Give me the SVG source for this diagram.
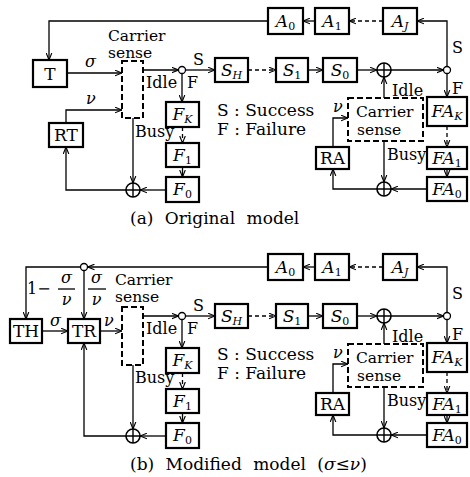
<svg xmlns="http://www.w3.org/2000/svg" width="470" height="477" viewBox="0 0 470 477">
<defs>
<style>
.box{fill:#fff;stroke:#000;stroke-width:2.2}
.ln{fill:none;stroke:#000;stroke-width:1.3;marker-end:url(#ah)}
.nm{fill:none;stroke:#000;stroke-width:1.3}
.dl{stroke-dasharray:4 3}
.db{fill:none;stroke:#000;stroke-width:2;stroke-dasharray:6 3}
.cir{fill:#fff;stroke:#000;stroke-width:1.3}
.sum{fill:#fff;stroke:#000;stroke-width:1.6}
text{font-family:"DejaVu Serif","Liberation Serif",serif;font-size:16px;fill:#000}
.it{font-style:italic}
.lb{text-anchor:middle;font-size:17px}
.sub{font-size:11px}
.lg{font-size:17px}
.cs{font-size:15.5px}
.cap{font-size:17px;word-spacing:6px}
.mid{text-anchor:middle}
</style>
<marker id="ah" viewBox="0 0 10 10" refX="10" refY="5" markerWidth="7" markerHeight="7" markerUnits="userSpaceOnUse" orient="auto">
<path d="M0,1 L10,5 L0,9" fill="none" stroke="#000" stroke-width="1.6"/>
</marker>
<g id="plus">
<circle cx="0" cy="0" r="7" class="sum"/>
<path d="M-7,0 H7 M0,-7 V7" stroke="#000" stroke-width="1.4"/>
</g>
</defs>

<!-- ============ (a) Original model ============ -->
<g id="a-connectors">
<path class="ln" d="M447,66.5 V21 H417"/>
<path class="ln dl" d="M383,21 H349"/>
<path class="ln" d="M315,21 H303"/>
<path class="ln" d="M268,21 H49 V60"/>
<path class="ln" d="M67,73 H122"/>
<path class="ln" d="M66,123 V110 H122"/>
<path class="ln" d="M143,70 H178.5"/>
<path class="ln" d="M185.5,70 H215"/>
<path class="ln" d="M182,73.5 V102"/>
<path class="ln dl" d="M248,70 H276"/>
<path class="ln" d="M308,70 H323"/>
<path class="ln" d="M357,70 H377"/>
<path class="ln" d="M391,70 H443.5"/>
<path class="ln" d="M447,73.5 V97"/>
<path class="ln dl" d="M447,126 V147"/>
<path class="ln" d="M447,169 V177"/>
<path class="ln" d="M427,189 H391"/>
<path class="ln" d="M377,189 H333 V169"/>
<path class="ln" d="M333,147 V118 H348"/>
<path class="ln" d="M384,141 V182"/>
<path class="ln" d="M384,98 V77"/>
<path class="ln dl" d="M182.5,127 V143"/>
<path class="ln" d="M182.5,167 V177"/>
<path class="ln" d="M166,190 H140"/>
<path class="ln" d="M133,118 V183"/>
<path class="ln" d="M126,190 H66 V147"/>
</g>

<g id="a-A0"><rect class="box" x="268" y="8" width="35" height="26"/><text class="lb it" x="285.5" y="27">A<tspan class="sub" font-style="normal" dy="3">0</tspan></text></g>
<g id="a-A1"><rect class="box" x="315" y="8" width="34" height="26"/><text class="lb it" x="332" y="27">A<tspan class="sub" font-style="normal" dy="3">1</tspan></text></g>
<g id="a-AJ"><rect class="box" x="383" y="8" width="34" height="26"/><text class="lb it" x="400" y="27">A<tspan class="sub" dy="3">J</tspan></text></g>
<g id="a-T"><rect class="box" x="33" y="60" width="34" height="27"/><text class="lb" x="50" y="80">T</text></g>
<g id="a-RT"><rect class="box" x="49" y="123" width="34" height="24"/><text class="lb" x="66" y="141">RT</text></g>
<g id="a-CS1"><rect class="db" x="122" y="61" width="21" height="57"/><text class="cs" x="108" y="41">Carrier</text><text class="cs" x="108" y="58">sense</text></g>
<g id="a-SW1"><circle class="cir" cx="182" cy="70" r="3.5"/></g>
<g id="a-SH"><rect class="box" x="215" y="58" width="33" height="24"/><text class="lb it" x="231.5" y="76">S<tspan class="sub" dy="3">H</tspan></text></g>
<g id="a-S1"><rect class="box" x="276" y="58" width="32" height="24"/><text class="lb it" x="292" y="76">S<tspan class="sub" font-style="normal" dy="3">1</tspan></text></g>
<g id="a-S0"><rect class="box" x="323" y="58" width="34" height="24"/><text class="lb it" x="340" y="76">S<tspan class="sub" font-style="normal" dy="3">0</tspan></text></g>
<g id="a-P1"><use href="#plus" x="384" y="70"/></g>
<g id="a-SW2"><circle class="cir" cx="447" cy="70" r="3.5"/></g>
<g id="a-FK"><rect class="box" x="166" y="102" width="33" height="25"/><text class="lb it" x="182.5" y="120">F<tspan class="sub" dy="3">K</tspan></text></g>
<g id="a-F1"><rect class="box" x="166" y="143" width="33" height="24"/><text class="lb it" x="182.5" y="161">F<tspan class="sub" font-style="normal" dy="3">1</tspan></text></g>
<g id="a-F0"><rect class="box" x="166" y="177" width="33" height="25"/><text class="lb it" x="182.5" y="195">F<tspan class="sub" font-style="normal" dy="3">0</tspan></text></g>
<g id="a-P3"><use href="#plus" x="133" y="190"/></g>
<g id="a-FAK"><rect class="box" x="427" y="97" width="40" height="29"/><text class="lb it" x="447" y="117">FA<tspan class="sub" dy="3">K</tspan></text></g>
<g id="a-FA1"><rect class="box" x="427" y="147" width="40" height="22"/><text class="lb it" x="447" y="164">FA<tspan class="sub" font-style="normal" dy="3">1</tspan></text></g>
<g id="a-FA0"><rect class="box" x="427" y="177" width="40" height="24"/><text class="lb it" x="447" y="195">FA<tspan class="sub" font-style="normal" dy="3">0</tspan></text></g>
<g id="a-P2"><use href="#plus" x="384" y="189"/></g>
<g id="a-RA"><rect class="box" x="316" y="147" width="33" height="22"/><text class="lb" x="332.5" y="164">RA</text></g>
<g id="a-CS2"><rect class="db" x="348" y="98" width="75" height="43"/><text class="cs" x="356" y="117">Carrier</text><text class="cs" x="357" y="135">sense</text></g>

<g id="a-labels">
<text class="it" x="85" y="67">σ</text>
<text class="it" x="86" y="104">ν</text>
<text x="146" y="88">Idle</text>
<text x="187" y="88">F</text>
<text x="193" y="65">S</text>
<text x="452" y="53">S</text>
<text x="452" y="94">F</text>
<text x="392" y="96">Idle</text>
<text x="387" y="160">Busy</text>
<text x="135" y="137">Busy</text>
<text class="it" x="333" y="112">ν</text>
<text class="lg" x="217" y="116">S : Success</text>
<text class="lg" x="217" y="135">F : Failure</text>
<text class="cap" x="130" y="224">(a) Original model</text>
</g>

<!-- ============ (b) Modified model ============ -->
<g id="b-connectors">
<path class="ln" d="M447,312.5 V267 H417"/>
<path class="ln dl" d="M383,267 H349"/>
<path class="ln" d="M315,267 H303"/>
<path class="ln" d="M268,267 H87.5"/>
<path class="ln" d="M80.5,267 H26 V319"/>
<path class="ln" d="M84,270.5 V319"/>
<path class="ln" d="M42,331 H68"/>
<path class="ln" d="M100,331 H122"/>
<path class="ln" d="M143,316 H178.5"/>
<path class="ln" d="M185.5,316 H215"/>
<path class="ln" d="M182,319.5 V348"/>
<path class="ln dl" d="M248,316 H276"/>
<path class="ln" d="M308,316 H323"/>
<path class="ln" d="M357,316 H377"/>
<path class="ln" d="M391,316 H443.5"/>
<path class="ln" d="M447,319.5 V343"/>
<path class="ln dl" d="M447,372 V393"/>
<path class="ln" d="M447,415 V423"/>
<path class="ln" d="M427,435 H391"/>
<path class="ln" d="M377,435 H333 V415"/>
<path class="ln" d="M333,393 V364 H348"/>
<path class="ln" d="M384,387 V428"/>
<path class="ln" d="M384,344 V323"/>
<path class="ln dl" d="M182.5,373 V389"/>
<path class="ln" d="M182.5,413 V423"/>
<path class="ln" d="M166,436 H140"/>
<path class="ln" d="M133,365 V429"/>
<path class="ln" d="M126,436 H84 V343"/>
</g>

<g id="b-A0"><rect class="box" x="268" y="254" width="35" height="26"/><text class="lb it" x="285.5" y="273">A<tspan class="sub" font-style="normal" dy="3">0</tspan></text></g>
<g id="b-A1"><rect class="box" x="315" y="254" width="34" height="26"/><text class="lb it" x="332" y="273">A<tspan class="sub" font-style="normal" dy="3">1</tspan></text></g>
<g id="b-AJ"><rect class="box" x="383" y="254" width="34" height="26"/><text class="lb it" x="400" y="273">A<tspan class="sub" dy="3">J</tspan></text></g>
<g id="b-SW3"><circle class="cir" cx="84" cy="267" r="3.5"/></g>
<g id="b-TH"><rect class="box" x="10" y="319" width="32" height="24"/><text class="lb" x="26" y="337">TH</text></g>
<g id="b-TR"><rect class="box" x="68" y="319" width="32" height="24"/><text class="lb" x="84" y="337">TR</text></g>
<g id="b-CS1"><rect class="db" x="122" y="307" width="21" height="58"/><text class="cs" x="115" y="285">Carrier</text><text class="cs" x="115" y="302">sense</text></g>
<g id="b-SW1"><circle class="cir" cx="182" cy="316" r="3.5"/></g>
<g id="b-SH"><rect class="box" x="215" y="304" width="33" height="24"/><text class="lb it" x="231.5" y="322">S<tspan class="sub" dy="3">H</tspan></text></g>
<g id="b-S1"><rect class="box" x="276" y="304" width="32" height="24"/><text class="lb it" x="292" y="322">S<tspan class="sub" font-style="normal" dy="3">1</tspan></text></g>
<g id="b-S0"><rect class="box" x="323" y="304" width="34" height="24"/><text class="lb it" x="340" y="322">S<tspan class="sub" font-style="normal" dy="3">0</tspan></text></g>
<g id="b-P1"><use href="#plus" x="384" y="316"/></g>
<g id="b-SW2"><circle class="cir" cx="447" cy="316" r="3.5"/></g>
<g id="b-FK"><rect class="box" x="166" y="348" width="33" height="25"/><text class="lb it" x="182.5" y="366">F<tspan class="sub" dy="3">K</tspan></text></g>
<g id="b-F1"><rect class="box" x="166" y="389" width="33" height="24"/><text class="lb it" x="182.5" y="407">F<tspan class="sub" font-style="normal" dy="3">1</tspan></text></g>
<g id="b-F0"><rect class="box" x="166" y="423" width="33" height="25"/><text class="lb it" x="182.5" y="441">F<tspan class="sub" font-style="normal" dy="3">0</tspan></text></g>
<g id="b-P3"><use href="#plus" x="133" y="436"/></g>
<g id="b-FAK"><rect class="box" x="427" y="343" width="40" height="29"/><text class="lb it" x="447" y="363">FA<tspan class="sub" dy="3">K</tspan></text></g>
<g id="b-FA1"><rect class="box" x="427" y="393" width="40" height="22"/><text class="lb it" x="447" y="410">FA<tspan class="sub" font-style="normal" dy="3">1</tspan></text></g>
<g id="b-FA0"><rect class="box" x="427" y="423" width="40" height="24"/><text class="lb it" x="447" y="441">FA<tspan class="sub" font-style="normal" dy="3">0</tspan></text></g>
<g id="b-P2"><use href="#plus" x="384" y="435"/></g>
<g id="b-RA"><rect class="box" x="316" y="393" width="33" height="22"/><text class="lb" x="332.5" y="410">RA</text></g>
<g id="b-CS2"><rect class="db" x="348" y="344" width="75" height="43"/><text class="cs" x="356" y="363">Carrier</text><text class="cs" x="357" y="381">sense</text></g>

<g id="b-labels">
<text x="27" y="294">1−</text>
<text class="it mid" x="66.5" y="283">σ</text>
<path class="nm" d="M58,289 H75"/>
<text class="it mid" x="66.5" y="305">ν</text>
<text class="it mid" x="96.5" y="283">σ</text>
<path class="nm" d="M88,289 H106"/>
<text class="it mid" x="96.5" y="305">ν</text>
<text class="it" x="50" y="326">σ</text>
<text class="it" x="104" y="326">ν</text>
<text x="146" y="334">Idle</text>
<text x="187" y="334">F</text>
<text x="193" y="311">S</text>
<text x="452" y="299">S</text>
<text x="452" y="340">F</text>
<text x="392" y="342">Idle</text>
<text x="387" y="406">Busy</text>
<text x="135" y="383">Busy</text>
<text class="it" x="333" y="358">ν</text>
<text class="lg" x="217" y="360">S : Success</text>
<text class="lg" x="217" y="379">F : Failure</text>
<text class="cap" x="130" y="470">(b) Modified model (<tspan class="it">σ</tspan>≤<tspan class="it">ν</tspan>)</text>
</g>
</svg>
